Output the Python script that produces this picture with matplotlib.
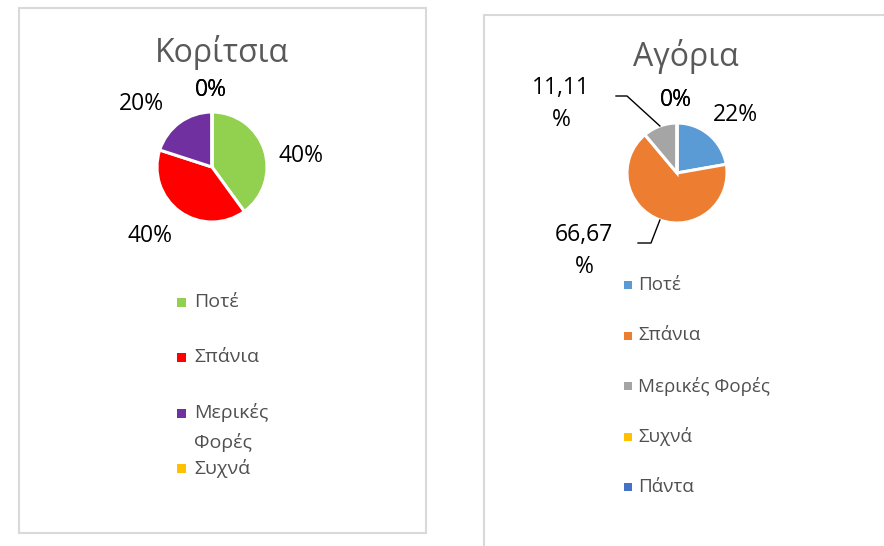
import matplotlib
matplotlib.use("Agg")
import matplotlib.pyplot as plt
from matplotlib.patches import Rectangle
import numpy as np

plt.rcParams['font.family'] = ['Open Sans', 'DejaVu Sans']

# ---------------- data ----------------
girls_title = "Κορίτσια"
girls_categories = ["Ποτέ", "Σπάνια", "Μερικές Φορές", "Συχνά", "Πάντα"]
girls_values = [40, 40, 20, 0, 0]
girls_labels = ["40%", "40%", "20%", "0%", "0%"]
girls_colors = ["#92D050", "#FF0000", "#7030A0", "#FFC000", "#4472C4"]
girls_legend_count = 4  # Excel legend only had room for four entries

boys_title = "Αγόρια"
boys_categories = ["Ποτέ", "Σπάνια", "Μερικές Φορές", "Συχνά", "Πάντα"]
boys_values = [22.22, 66.67, 11.11, 0, 0]
boys_labels = ["22%", "66,67\n%", "11,11\n%", "0%", "0%"]
boys_colors = ["#5B9BD5", "#ED7D31", "#A5A5A5", "#FFC000", "#4472C4"]

# ---------------- layout (pixels) ----------------
W, H = 884, 546
fig = plt.figure(figsize=(W / 100, H / 100), dpi=100)


def fx(x):
    return x / W


def fy(y):
    return 1 - y / H


def box(x0, y0, x1, y1):
    fig.patches.append(Rectangle((fx(x0), fy(y1)), fx(x1 - x0), (y1 - y0) / H,
                                 transform=fig.transFigure, fill=False,
                                 edgecolor="#D9D9D9", linewidth=1.5))


def pie_axes(cx, cy, half=170):
    ax = fig.add_axes([fx(cx - half), fy(cy + half), 2 * half / W, 2 * half / H])
    return ax


def set_scale(ax, r, half=170):
    lim = half / r
    ax.set_xlim(-lim, lim)
    ax.set_ylim(-lim, lim)
    ax.set_aspect("equal")
    ax.axis("off")


def legend(cats, colors, x_marker, x_text, y0, dy, size, msize, wrap=None, n=None):
    n = len(cats) if n is None else n
    for i in range(n):
        y = y0 + i * dy
        fig.patches.append(Rectangle((fx(x_marker - msize / 2), fy(y + msize / 2)),
                                     msize / W, msize / H, transform=fig.transFigure,
                                     facecolor=colors[i], edgecolor="none"))
        label = cats[i] if wrap is None else wrap.get(cats[i], cats[i])
        for k, line in enumerate(label.split("\n")):
            fig.text(fx(x_text), fy(y + k * 30), line, fontsize=size,
                     color="#505050", va="center", ha="left")


# boxes
box(19, 8, 426, 533)
box(484, 15, 892, 556)

# ---------- girls ----------
ax1 = pie_axes(212, 167)
wedges1, _ = ax1.pie(girls_values, colors=girls_colors, startangle=90,
                     counterclock=False, radius=1,
                     wedgeprops=dict(edgecolor="white", linewidth=2.2))
set_scale(ax1, 55)
girls_label_pos = [(1.62, 0.2), (-1.12, -1.25), (-1.28, 1.15), (-0.02, 1.4), (-0.02, 1.4)]
for lab, (x, y) in zip(girls_labels, girls_label_pos):
    ax1.text(x, y, lab, fontsize=16.5, color="black", ha="center", va="center")
fig.text(fx(222), fy(52), girls_title, fontsize=23, color="#595959",
         ha="center", va="center")
legend(girls_categories, girls_colors, 181, 194, 302, 55.5, 14, 9,
       wrap={"Μερικές Φορές": "Μερικές\nΦορές"}, n=girls_legend_count)

# ---------- boys ----------
ax2 = pie_axes(677, 173)
wedges2, _ = ax2.pie(boys_values, colors=boys_colors, startangle=90,
                     counterclock=False, radius=1,
                     wedgeprops=dict(edgecolor="white", linewidth=2.2))
set_scale(ax2, 50)
boys_label_pos = [(1.16, 1.16), (-1.86, -1.56), (-2.32, 1.38), (-0.02, 1.46), (-0.02, 1.46)]
for lab, (x, y) in zip(boys_labels, boys_label_pos):
    ax2.text(x, y, lab, fontsize=16.5, color="black", ha="center", va="center",
             linespacing=1.4)

# leader lines for the two multi-line labels
leader_elbows = {1: [(-0.78, -1.40), (-0.52, -1.40)], 2: [(-1.22, 1.54), (-1.00, 1.54)]}
for idx, pts in leader_elbows.items():
    w = wedges2[idx]
    mid = np.deg2rad((w.theta1 + w.theta2) / 2)
    edge = (np.cos(mid), np.sin(mid))
    xs = [pts[0][0], pts[1][0], edge[0]]
    ys = [pts[0][1], pts[1][1], edge[1]]
    ax2.plot(xs, ys, color="black", linewidth=1)

fig.text(fx(686), fy(56), boys_title, fontsize=23, color="#595959",
         ha="center", va="center")
legend(boys_categories, boys_colors, 627.5, 638, 285, 50.5, 13.5, 8)

fig.savefig("out.png", dpi=100, facecolor="white")
